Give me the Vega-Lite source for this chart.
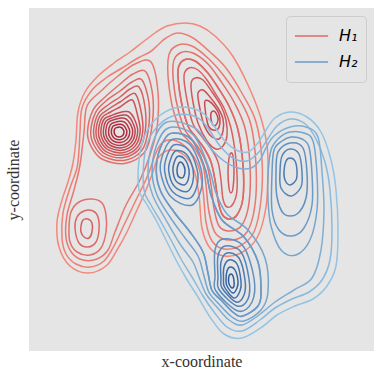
{
"$schema": "https://vega.github.io/schema/vega-lite/v6.json",
"width": 345, "height": 343,
"autosize": {"type": "none"},
"padding": {"left": 29, "top": 8, "right": 8, "bottom": 28},
"background": "white",
"config": {
  "view": {"fill": "#e5e5e5", "stroke": null},
  "axis": {"labels": false, "ticks": false, "domain": false, "grid": false, "titleFont": "Liberation Serif", "titleFontSize": 16, "titleFontWeight": "normal", "titleColor": "#333333"},
  "legend": {"orient": "none", "legendX": 257, "legendY": 8, "fillColor": "#e5e5e5", "strokeColor": "#cccccc", "cornerRadius": 4, "padding": 8, "labelFont": "DejaVu Sans", "labelFontSize": 16, "labelFontStyle": "italic", "labelColor": "#000000", "symbolType": "stroke", "symbolStrokeWidth": 1.5, "symbolSize": 1100, "labelOffset": 10, "clipHeight": 24}
},
"datasets": {"c": [
{"s":"H₁","r":"E1","l":0,"x":47,"y":211},{"s":"H₁","r":"E1","l":0,"x":49,"y":239},{"s":"H₁","r":"E1","l":0,"x":56,"y":259},{"s":"H₁","r":"E1","l":0,"x":69,"y":275},{"s":"H₁","r":"E1","l":0,"x":85,"y":288},{"s":"H₁","r":"E1","l":0,"x":101,"y":299},{"s":"H₁","r":"E1","l":0,"x":114,"y":309},{"s":"H₁","r":"E1","l":0,"x":126,"y":318},{"s":"H₁","r":"E1","l":0,"x":138,"y":325},{"s":"H₁","r":"E1","l":0,"x":156,"y":328},{"s":"H₁","r":"E1","l":0,"x":171,"y":325},{"s":"H₁","r":"E1","l":0,"x":186,"y":315},{"s":"H₁","r":"E1","l":0,"x":203,"y":296},{"s":"H₁","r":"E1","l":0,"x":219,"y":266},{"s":"H₁","r":"E1","l":0,"x":232,"y":233},{"s":"H₁","r":"E1","l":0,"x":238,"y":206},{"s":"H₁","r":"E1","l":0,"x":239,"y":181},{"s":"H₁","r":"E1","l":0,"x":237,"y":144},{"s":"H₁","r":"E1","l":0,"x":228,"y":113},{"s":"H₁","r":"E1","l":0,"x":212,"y":98},{"s":"H₁","r":"E1","l":0,"x":195,"y":95},{"s":"H₁","r":"E1","l":0,"x":181,"y":103},{"s":"H₁","r":"E1","l":0,"x":173,"y":123},{"s":"H₁","r":"E1","l":0,"x":170,"y":156},{"s":"H₁","r":"E1","l":0,"x":165,"y":181},{"s":"H₁","r":"E1","l":0,"x":155,"y":196},{"s":"H₁","r":"E1","l":0,"x":141,"y":201},{"s":"H₁","r":"E1","l":0,"x":129,"y":193},{"s":"H₁","r":"E1","l":0,"x":124,"y":179},{"s":"H₁","r":"E1","l":0,"x":117,"y":161},{"s":"H₁","r":"E1","l":0,"x":108,"y":141},{"s":"H₁","r":"E1","l":0,"x":98,"y":119},{"s":"H₁","r":"E1","l":0,"x":88,"y":101},{"s":"H₁","r":"E1","l":0,"x":77,"y":85},{"s":"H₁","r":"E1","l":0,"x":59,"y":78},{"s":"H₁","r":"E1","l":0,"x":41,"y":85},{"s":"H₁","r":"E1","l":0,"x":30,"y":104},{"s":"H₁","r":"E1","l":0,"x":28,"y":129},{"s":"H₁","r":"E1","l":0,"x":33,"y":151},{"s":"H₁","r":"E1","l":0,"x":39,"y":169},{"s":"H₁","r":"E1","l":0,"x":44,"y":188},
{"s":"H₁","r":"E2","l":1,"x":233,"y":191},{"s":"H₁","r":"E2","l":1,"x":232,"y":151},{"s":"H₁","r":"E2","l":1,"x":225,"y":119},{"s":"H₁","r":"E2","l":1,"x":211,"y":105},{"s":"H₁","r":"E2","l":1,"x":195,"y":102},{"s":"H₁","r":"E2","l":1,"x":183,"y":110},{"s":"H₁","r":"E2","l":1,"x":177,"y":129},{"s":"H₁","r":"E2","l":1,"x":174,"y":161},{"s":"H₁","r":"E2","l":1,"x":169,"y":186},{"s":"H₁","r":"E2","l":1,"x":158,"y":203},{"s":"H₁","r":"E2","l":1,"x":144,"y":211},{"s":"H₁","r":"E2","l":1,"x":133,"y":208},{"s":"H₁","r":"E2","l":1,"x":126,"y":196},{"s":"H₁","r":"E2","l":1,"x":119,"y":176},{"s":"H₁","r":"E2","l":1,"x":107,"y":151},{"s":"H₁","r":"E2","l":1,"x":95,"y":126},{"s":"H₁","r":"E2","l":1,"x":85,"y":105},{"s":"H₁","r":"E2","l":1,"x":75,"y":90},{"s":"H₁","r":"E2","l":1,"x":61,"y":84},{"s":"H₁","r":"E2","l":1,"x":47,"y":87},{"s":"H₁","r":"E2","l":1,"x":37,"y":97},{"s":"H₁","r":"E2","l":1,"x":33,"y":113},{"s":"H₁","r":"E2","l":1,"x":34,"y":138},{"s":"H₁","r":"E2","l":1,"x":41,"y":163},{"s":"H₁","r":"E2","l":1,"x":48,"y":183},{"s":"H₁","r":"E2","l":1,"x":50,"y":201},{"s":"H₁","r":"E2","l":1,"x":51,"y":219},{"s":"H₁","r":"E2","l":1,"x":53,"y":243},{"s":"H₁","r":"E2","l":1,"x":63,"y":261},{"s":"H₁","r":"E2","l":1,"x":77,"y":273},{"s":"H₁","r":"E2","l":1,"x":93,"y":283},{"s":"H₁","r":"E2","l":1,"x":109,"y":293},{"s":"H₁","r":"E2","l":1,"x":121,"y":299},{"s":"H₁","r":"E2","l":1,"x":129,"y":306},{"s":"H₁","r":"E2","l":1,"x":137,"y":313},{"s":"H₁","r":"E2","l":1,"x":149,"y":318},{"s":"H₁","r":"E2","l":1,"x":164,"y":313},{"s":"H₁","r":"E2","l":1,"x":181,"y":299},{"s":"H₁","r":"E2","l":1,"x":197,"y":283},{"s":"H₁","r":"E2","l":1,"x":214,"y":256},{"s":"H₁","r":"E2","l":1,"x":227,"y":229},
{"s":"H₁","r":"J","l":2,"x":55,"y":219},{"s":"H₁","r":"J","l":2,"x":58,"y":245},{"s":"H₁","r":"J","l":2,"x":72,"y":260},{"s":"H₁","r":"J","l":2,"x":89,"y":275},{"s":"H₁","r":"J","l":2,"x":106,"y":287},{"s":"H₁","r":"J","l":2,"x":122,"y":289},{"s":"H₁","r":"J","l":2,"x":129,"y":259},{"s":"H₁","r":"J","l":2,"x":128,"y":223},{"s":"H₁","r":"J","l":2,"x":121,"y":196},{"s":"H₁","r":"J","l":2,"x":111,"y":171},{"s":"H₁","r":"J","l":2,"x":97,"y":146},{"s":"H₁","r":"J","l":2,"x":86,"y":119},{"s":"H₁","r":"J","l":2,"x":79,"y":101},{"s":"H₁","r":"J","l":2,"x":68,"y":92},{"s":"H₁","r":"J","l":2,"x":54,"y":91},{"s":"H₁","r":"J","l":2,"x":43,"y":98},{"s":"H₁","r":"J","l":2,"x":37,"y":113},{"s":"H₁","r":"J","l":2,"x":38,"y":136},{"s":"H₁","r":"J","l":2,"x":45,"y":161},{"s":"H₁","r":"J","l":2,"x":51,"y":186},
{"s":"H₁","r":"L11","l":3,"x":58.5,"y":219},{"s":"H₁","r":"L11","l":3,"x":63.9,"y":240.6},{"s":"H₁","r":"L11","l":3,"x":75,"y":253},{"s":"H₁","r":"L11","l":3,"x":90,"y":266},{"s":"H₁","r":"L11","l":3,"x":104,"y":277},{"s":"H₁","r":"L11","l":3,"x":117,"y":279},{"s":"H₁","r":"L11","l":3,"x":124,"y":253},{"s":"H₁","r":"L11","l":3,"x":122.4,"y":220.8},{"s":"H₁","r":"L11","l":3,"x":115.2,"y":198.3},{"s":"H₁","r":"L11","l":3,"x":95.4,"y":187.5},{"s":"H₁","r":"L11","l":3,"x":72.9,"y":192},{"s":"H₁","r":"L11","l":3,"x":62.1,"y":204.6},
{"s":"H₁","r":"L10","l":4,"x":61.7,"y":219},{"s":"H₁","r":"L10","l":4,"x":66.5,"y":238.4},{"s":"H₁","r":"L10","l":4,"x":77,"y":250},{"s":"H₁","r":"L10","l":4,"x":91,"y":260},{"s":"H₁","r":"L10","l":4,"x":103,"y":269},{"s":"H₁","r":"L10","l":4,"x":113,"y":271},{"s":"H₁","r":"L10","l":4,"x":120,"y":248},{"s":"H₁","r":"L10","l":4,"x":119.2,"y":220.6},{"s":"H₁","r":"L10","l":4,"x":112.7,"y":200.4},{"s":"H₁","r":"L10","l":4,"x":94.9,"y":190.6},{"s":"H₁","r":"L10","l":4,"x":74.6,"y":194.7},{"s":"H₁","r":"L10","l":4,"x":64.9,"y":206},
{"s":"H₁","r":"L9","l":5,"x":64.5,"y":219},{"s":"H₁","r":"L9","l":5,"x":68.8,"y":236.5},{"s":"H₁","r":"L9","l":5,"x":79,"y":246},{"s":"H₁","r":"L9","l":5,"x":91,"y":254},{"s":"H₁","r":"L9","l":5,"x":101,"y":262},{"s":"H₁","r":"L9","l":5,"x":110,"y":264},{"s":"H₁","r":"L9","l":5,"x":116,"y":244},{"s":"H₁","r":"L9","l":5,"x":116.3,"y":220.5},{"s":"H₁","r":"L9","l":5,"x":110.4,"y":202.2},{"s":"H₁","r":"L9","l":5,"x":94.4,"y":193.4},{"s":"H₁","r":"L9","l":5,"x":76.1,"y":197.1},{"s":"H₁","r":"L9","l":5,"x":67.4,"y":207.3},
{"s":"H₁","r":"L8","l":6,"x":66.9,"y":219},{"s":"H₁","r":"L8","l":6,"x":70.9,"y":234.8},{"s":"H₁","r":"L8","l":6,"x":80.5,"y":242.5},{"s":"H₁","r":"L8","l":6,"x":91,"y":249},{"s":"H₁","r":"L8","l":6,"x":99.5,"y":255},{"s":"H₁","r":"L8","l":6,"x":106.5,"y":257},{"s":"H₁","r":"L8","l":6,"x":112,"y":240},{"s":"H₁","r":"L8","l":6,"x":113.8,"y":220.3},{"s":"H₁","r":"L8","l":6,"x":108.5,"y":203.8},{"s":"H₁","r":"L8","l":6,"x":94,"y":195.9},{"s":"H₁","r":"L8","l":6,"x":77.5,"y":199.2},{"s":"H₁","r":"L8","l":6,"x":69.5,"y":208.4},
{"s":"H₁","r":"L7","l":7,"x":69.4,"y":219},{"s":"H₁","r":"L7","l":7,"x":72.9,"y":233.2},{"s":"H₁","r":"L7","l":7,"x":81.5,"y":239},{"s":"H₁","r":"L7","l":7,"x":91,"y":244},{"s":"H₁","r":"L7","l":7,"x":98,"y":249},{"s":"H₁","r":"L7","l":7,"x":104,"y":250.5},{"s":"H₁","r":"L7","l":7,"x":108.5,"y":236},{"s":"H₁","r":"L7","l":7,"x":111.2,"y":220.2},{"s":"H₁","r":"L7","l":7,"x":106.5,"y":205.4},{"s":"H₁","r":"L7","l":7,"x":93.5,"y":198.3},{"s":"H₁","r":"L7","l":7,"x":78.8,"y":201.3},{"s":"H₁","r":"L7","l":7,"x":71.7,"y":209.6},
{"s":"H₁","r":"L6","l":8,"x":71.8,"y":219},{"s":"H₁","r":"L6","l":8,"x":74.9,"y":231.5},{"s":"H₁","r":"L6","l":8,"x":82.7,"y":235.6},{"s":"H₁","r":"L6","l":8,"x":90.9,"y":238.5},{"s":"H₁","r":"L6","l":8,"x":96.3,"y":239.4},{"s":"H₁","r":"L6","l":8,"x":100.4,"y":238.8},{"s":"H₁","r":"L6","l":8,"x":105.3,"y":232.2},{"s":"H₁","r":"L6","l":8,"x":108.7,"y":220},{"s":"H₁","r":"L6","l":8,"x":104.6,"y":207},{"s":"H₁","r":"L6","l":8,"x":93.1,"y":200.8},{"s":"H₁","r":"L6","l":8,"x":80.1,"y":203.4},{"s":"H₁","r":"L6","l":8,"x":73.9,"y":210.7},
{"s":"H₁","r":"L5","l":9,"x":74.3,"y":219},{"s":"H₁","r":"L5","l":9,"x":77,"y":229.8},{"s":"H₁","r":"L5","l":9,"x":83.7,"y":233.4},{"s":"H₁","r":"L5","l":9,"x":90.7,"y":235.6},{"s":"H₁","r":"L5","l":9,"x":95.3,"y":236},{"s":"H₁","r":"L5","l":9,"x":98.6,"y":235.3},{"s":"H₁","r":"L5","l":9,"x":102.9,"y":230.1},{"s":"H₁","r":"L5","l":9,"x":106.2,"y":219.9},{"s":"H₁","r":"L5","l":9,"x":102.6,"y":208.6},{"s":"H₁","r":"L5","l":9,"x":92.7,"y":203.2},{"s":"H₁","r":"L5","l":9,"x":81.5,"y":205.5},{"s":"H₁","r":"L5","l":9,"x":76,"y":211.8},
{"s":"H₁","r":"L4","l":10,"x":76.7,"y":219},{"s":"H₁","r":"L4","l":10,"x":79,"y":228.1},{"s":"H₁","r":"L4","l":10,"x":84.7,"y":231.2},{"s":"H₁","r":"L4","l":10,"x":90.6,"y":232.8},{"s":"H₁","r":"L4","l":10,"x":94.3,"y":232.9},{"s":"H₁","r":"L4","l":10,"x":96.9,"y":232.2},{"s":"H₁","r":"L4","l":10,"x":100.6,"y":228.2},{"s":"H₁","r":"L4","l":10,"x":103.7,"y":219.8},{"s":"H₁","r":"L4","l":10,"x":100.6,"y":210.3},{"s":"H₁","r":"L4","l":10,"x":92.3,"y":205.7},{"s":"H₁","r":"L4","l":10,"x":82.8,"y":207.6},{"s":"H₁","r":"L4","l":10,"x":78.2,"y":212.9},
{"s":"H₁","r":"L3","l":11,"x":79.5,"y":219},{"s":"H₁","r":"L3","l":11,"x":81.3,"y":226.2},{"s":"H₁","r":"L3","l":11,"x":85.8,"y":228.6},{"s":"H₁","r":"L3","l":11,"x":90.5,"y":229.7},{"s":"H₁","r":"L3","l":11,"x":93.3,"y":229.6},{"s":"H₁","r":"L3","l":11,"x":95.3,"y":229},{"s":"H₁","r":"L3","l":11,"x":98.2,"y":226.1},{"s":"H₁","r":"L3","l":11,"x":100.8,"y":219.6},{"s":"H₁","r":"L3","l":11,"x":98.4,"y":212.1},{"s":"H₁","r":"L3","l":11,"x":91.8,"y":208.5},{"s":"H₁","r":"L3","l":11,"x":84.3,"y":210},{"s":"H₁","r":"L3","l":11,"x":80.7,"y":214.2},
{"s":"H₁","r":"L2","l":12,"x":82.3,"y":219},{"s":"H₁","r":"L2","l":12,"x":83.6,"y":224.3},{"s":"H₁","r":"L2","l":12,"x":86.9,"y":226},{"s":"H₁","r":"L2","l":12,"x":90.4,"y":226.8},{"s":"H₁","r":"L2","l":12,"x":92.3,"y":226.6},{"s":"H₁","r":"L2","l":12,"x":93.7,"y":226.1},{"s":"H₁","r":"L2","l":12,"x":95.9,"y":224.1},{"s":"H₁","r":"L2","l":12,"x":97.9,"y":219.4},{"s":"H₁","r":"L2","l":12,"x":96.2,"y":213.9},{"s":"H₁","r":"L2","l":12,"x":91.3,"y":211.3},{"s":"H₁","r":"L2","l":12,"x":85.8,"y":212.4},{"s":"H₁","r":"L2","l":12,"x":83.2,"y":215.5},
{"s":"H₁","r":"L1","l":13,"x":85.1,"y":219},{"s":"H₁","r":"L1","l":13,"x":85.9,"y":222.4},{"s":"H₁","r":"L1","l":13,"x":88,"y":223.5},{"s":"H₁","r":"L1","l":13,"x":90.2,"y":223.9},{"s":"H₁","r":"L1","l":13,"x":91.5,"y":223.7},{"s":"H₁","r":"L1","l":13,"x":92.3,"y":223.4},{"s":"H₁","r":"L1","l":13,"x":93.7,"y":222.2},{"s":"H₁","r":"L1","l":13,"x":95,"y":219.3},{"s":"H₁","r":"L1","l":13,"x":93.9,"y":215.8},{"s":"H₁","r":"L1","l":13,"x":90.8,"y":214.1},{"s":"H₁","r":"L1","l":13,"x":87.3,"y":214.8},{"s":"H₁","r":"L1","l":13,"x":85.7,"y":216.8},
{"s":"H₁","r":"B2","l":3,"x":40,"y":123},{"s":"H₁","r":"B2","l":3,"x":42,"y":139},{"s":"H₁","r":"B2","l":3,"x":50,"y":149},{"s":"H₁","r":"B2","l":3,"x":63,"y":152},{"s":"H₁","r":"B2","l":3,"x":73,"y":148},{"s":"H₁","r":"B2","l":3,"x":77,"y":136},{"s":"H₁","r":"B2","l":3,"x":77,"y":119},{"s":"H₁","r":"B2","l":3,"x":72,"y":103},{"s":"H₁","r":"B2","l":3,"x":61,"y":96},{"s":"H₁","r":"B2","l":3,"x":48,"y":99},{"s":"H₁","r":"B2","l":3,"x":41,"y":109},
{"s":"H₁","r":"B1","l":4,"x":46,"y":123},{"s":"H₁","r":"B1","l":4,"x":48,"y":134},{"s":"H₁","r":"B1","l":4,"x":55,"y":140},{"s":"H₁","r":"B1","l":4,"x":64,"y":140},{"s":"H₁","r":"B1","l":4,"x":69,"y":134},{"s":"H₁","r":"B1","l":4,"x":70,"y":121},{"s":"H₁","r":"B1","l":4,"x":67,"y":109},{"s":"H₁","r":"B1","l":4,"x":59,"y":104},{"s":"H₁","r":"B1","l":4,"x":50,"y":108},
{"s":"H₁","r":"B0","l":5,"x":52,"y":125},{"s":"H₁","r":"B0","l":5,"x":54,"y":131},{"s":"H₁","r":"B0","l":5,"x":59,"y":132},{"s":"H₁","r":"B0","l":5,"x":63,"y":128},{"s":"H₁","r":"B0","l":5,"x":63,"y":119},{"s":"H₁","r":"B0","l":5,"x":60,"y":113},{"s":"H₁","r":"B0","l":5,"x":55,"y":114},{"s":"H₁","r":"B0","l":5,"x":52,"y":119},
{"s":"H₁","r":"M8","l":2,"x":151,"y":221},{"s":"H₁","r":"M8","l":2,"x":142,"y":251},{"s":"H₁","r":"M8","l":2,"x":139,"y":291},{"s":"H₁","r":"M8","l":2,"x":147,"y":305},{"s":"H₁","r":"M8","l":2,"x":163,"y":305},{"s":"H₁","r":"M8","l":2,"x":181,"y":291},{"s":"H₁","r":"M8","l":2,"x":195,"y":275},{"s":"H₁","r":"M8","l":2,"x":211,"y":251},{"s":"H₁","r":"M8","l":2,"x":222,"y":226},{"s":"H₁","r":"M8","l":2,"x":227,"y":186},{"s":"H₁","r":"M8","l":2,"x":226,"y":146},{"s":"H₁","r":"M8","l":2,"x":218,"y":119},{"s":"H₁","r":"M8","l":2,"x":203,"y":111},{"s":"H₁","r":"M8","l":2,"x":187,"y":117},{"s":"H₁","r":"M8","l":2,"x":180,"y":139},{"s":"H₁","r":"M8","l":2,"x":177,"y":166},{"s":"H₁","r":"M8","l":2,"x":174,"y":186},{"s":"H₁","r":"M8","l":2,"x":167,"y":201},{"s":"H₁","r":"M8","l":2,"x":157,"y":213},
{"s":"H₁","r":"M7","l":3,"x":155,"y":223},{"s":"H₁","r":"M7","l":3,"x":147,"y":251},{"s":"H₁","r":"M7","l":3,"x":144,"y":286},{"s":"H₁","r":"M7","l":3,"x":151,"y":298},{"s":"H₁","r":"M7","l":3,"x":164,"y":298},{"s":"H₁","r":"M7","l":3,"x":179,"y":287},{"s":"H₁","r":"M7","l":3,"x":191,"y":271},{"s":"H₁","r":"M7","l":3,"x":205,"y":249},{"s":"H₁","r":"M7","l":3,"x":216,"y":223},{"s":"H₁","r":"M7","l":3,"x":221,"y":186},{"s":"H₁","r":"M7","l":3,"x":220,"y":148},{"s":"H₁","r":"M7","l":3,"x":213,"y":126},{"s":"H₁","r":"M7","l":3,"x":201,"y":120},{"s":"H₁","r":"M7","l":3,"x":190,"y":125},{"s":"H₁","r":"M7","l":3,"x":185,"y":143},{"s":"H₁","r":"M7","l":3,"x":182,"y":166},{"s":"H₁","r":"M7","l":3,"x":178,"y":186},{"s":"H₁","r":"M7","l":3,"x":171,"y":201},{"s":"H₁","r":"M7","l":3,"x":162,"y":213},
{"s":"H₁","r":"M6","l":4,"x":159,"y":225},{"s":"H₁","r":"M6","l":4,"x":152,"y":251},{"s":"H₁","r":"M6","l":4,"x":149,"y":281},{"s":"H₁","r":"M6","l":4,"x":155,"y":291},{"s":"H₁","r":"M6","l":4,"x":166,"y":290},{"s":"H₁","r":"M6","l":4,"x":178,"y":279},{"s":"H₁","r":"M6","l":4,"x":188,"y":265},{"s":"H₁","r":"M6","l":4,"x":200,"y":245},{"s":"H₁","r":"M6","l":4,"x":209,"y":221},{"s":"H₁","r":"M6","l":4,"x":214,"y":186},{"s":"H₁","r":"M6","l":4,"x":214,"y":153},{"s":"H₁","r":"M6","l":4,"x":208,"y":136},{"s":"H₁","r":"M6","l":4,"x":200,"y":132},{"s":"H₁","r":"M6","l":4,"x":193,"y":137},{"s":"H₁","r":"M6","l":4,"x":189,"y":151},{"s":"H₁","r":"M6","l":4,"x":186,"y":171},{"s":"H₁","r":"M6","l":4,"x":182,"y":189},{"s":"H₁","r":"M6","l":4,"x":175,"y":203},{"s":"H₁","r":"M6","l":4,"x":166,"y":215},
{"s":"H₁","r":"M5","l":5,"x":164,"y":227},{"s":"H₁","r":"M5","l":5,"x":158,"y":251},{"s":"H₁","r":"M5","l":5,"x":155,"y":275},{"s":"H₁","r":"M5","l":5,"x":160,"y":283},{"s":"H₁","r":"M5","l":5,"x":169,"y":281},{"s":"H₁","r":"M5","l":5,"x":178,"y":271},{"s":"H₁","r":"M5","l":5,"x":186,"y":258},{"s":"H₁","r":"M5","l":5,"x":195,"y":243},{"s":"H₁","r":"M5","l":5,"x":202,"y":223},{"s":"H₁","r":"M5","l":5,"x":207,"y":191},{"s":"H₁","r":"M5","l":5,"x":208,"y":161},{"s":"H₁","r":"M5","l":5,"x":204,"y":147},{"s":"H₁","r":"M5","l":5,"x":198,"y":144},{"s":"H₁","r":"M5","l":5,"x":194,"y":152},{"s":"H₁","r":"M5","l":5,"x":192,"y":171},{"s":"H₁","r":"M5","l":5,"x":189,"y":189},{"s":"H₁","r":"M5","l":5,"x":183,"y":201},{"s":"H₁","r":"M5","l":5,"x":174,"y":213},
{"s":"H₁","r":"M4","l":6,"x":169,"y":228},{"s":"H₁","r":"M4","l":6,"x":164,"y":249},{"s":"H₁","r":"M4","l":6,"x":162,"y":267},{"s":"H₁","r":"M4","l":6,"x":166,"y":273},{"s":"H₁","r":"M4","l":6,"x":174,"y":271},{"s":"H₁","r":"M4","l":6,"x":183,"y":259},{"s":"H₁","r":"M4","l":6,"x":192,"y":245},{"s":"H₁","r":"M4","l":6,"x":197,"y":231},{"s":"H₁","r":"M4","l":6,"x":198,"y":215},{"s":"H₁","r":"M4","l":6,"x":194,"y":205},{"s":"H₁","r":"M4","l":6,"x":187,"y":202},{"s":"H₁","r":"M4","l":6,"x":178,"y":210},
{"s":"H₁","r":"R","l":6,"x":199,"y":179},{"s":"H₁","r":"R","l":6,"x":200,"y":193},{"s":"H₁","r":"R","l":6,"x":202,"y":198},{"s":"H₁","r":"R","l":6,"x":204,"y":195},{"s":"H₁","r":"R","l":6,"x":205,"y":179},{"s":"H₁","r":"R","l":6,"x":204,"y":163},{"s":"H₁","r":"R","l":6,"x":202,"y":158},{"s":"H₁","r":"R","l":6,"x":200,"y":163},
{"s":"H₁","r":"M3","l":7,"x":174,"y":229},{"s":"H₁","r":"M3","l":7,"x":170,"y":247},{"s":"H₁","r":"M3","l":7,"x":169,"y":258},{"s":"H₁","r":"M3","l":7,"x":174,"y":261},{"s":"H₁","r":"M3","l":7,"x":181,"y":254},{"s":"H₁","r":"M3","l":7,"x":189,"y":243},{"s":"H₁","r":"M3","l":7,"x":194,"y":232},{"s":"H₁","r":"M3","l":7,"x":194,"y":220},{"s":"H₁","r":"M3","l":7,"x":190,"y":212},{"s":"H₁","r":"M3","l":7,"x":183,"y":214},{"s":"H₁","r":"M3","l":7,"x":178,"y":220},
{"s":"H₁","r":"M2","l":8,"x":178,"y":230},{"s":"H₁","r":"M2","l":8,"x":176,"y":243},{"s":"H₁","r":"M2","l":8,"x":176,"y":250},{"s":"H₁","r":"M2","l":8,"x":180,"y":250},{"s":"H₁","r":"M2","l":8,"x":186,"y":244},{"s":"H₁","r":"M2","l":8,"x":190,"y":237},{"s":"H₁","r":"M2","l":8,"x":191,"y":229},{"s":"H₁","r":"M2","l":8,"x":189,"y":222},{"s":"H₁","r":"M2","l":8,"x":184,"y":221},{"s":"H₁","r":"M2","l":8,"x":180,"y":224},
{"s":"H₁","r":"M1","l":9,"x":182,"y":232},{"s":"H₁","r":"M1","l":9,"x":182,"y":238},{"s":"H₁","r":"M1","l":9,"x":185,"y":240},{"s":"H₁","r":"M1","l":9,"x":188,"y":236},{"s":"H₁","r":"M1","l":9,"x":189,"y":231},{"s":"H₁","r":"M1","l":9,"x":187,"y":226},{"s":"H₁","r":"M1","l":9,"x":184,"y":226},
{"s":"H₂","r":"F1","l":0,"x":110,"y":161},{"s":"H₂","r":"F1","l":0,"x":110,"y":191},{"s":"H₂","r":"F1","l":0,"x":116,"y":216},{"s":"H₂","r":"F1","l":0,"x":129,"y":234},{"s":"H₂","r":"F1","l":0,"x":146,"y":243},{"s":"H₂","r":"F1","l":0,"x":162,"y":243},{"s":"H₂","r":"F1","l":0,"x":175,"y":237},{"s":"H₂","r":"F1","l":0,"x":185,"y":225},{"s":"H₂","r":"F1","l":0,"x":195,"y":211},{"s":"H₂","r":"F1","l":0,"x":207,"y":201},{"s":"H₂","r":"F1","l":0,"x":219,"y":199},{"s":"H₂","r":"F1","l":0,"x":229,"y":208},{"s":"H₂","r":"F1","l":0,"x":237,"y":221},{"s":"H₂","r":"F1","l":0,"x":246,"y":233},{"s":"H₂","r":"F1","l":0,"x":261,"y":239},{"s":"H₂","r":"F1","l":0,"x":278,"y":234},{"s":"H₂","r":"F1","l":0,"x":292,"y":219},{"s":"H₂","r":"F1","l":0,"x":302,"y":191},{"s":"H₂","r":"F1","l":0,"x":307,"y":161},{"s":"H₂","r":"F1","l":0,"x":309,"y":121},{"s":"H₂","r":"F1","l":0,"x":307,"y":85},{"s":"H₂","r":"F1","l":0,"x":298,"y":65},{"s":"H₂","r":"F1","l":0,"x":284,"y":52},{"s":"H₂","r":"F1","l":0,"x":266,"y":45},{"s":"H₂","r":"F1","l":0,"x":248,"y":36},{"s":"H₂","r":"F1","l":0,"x":233,"y":24},{"s":"H₂","r":"F1","l":0,"x":213,"y":13},{"s":"H₂","r":"F1","l":0,"x":195,"y":17},{"s":"H₂","r":"F1","l":0,"x":181,"y":34},{"s":"H₂","r":"F1","l":0,"x":169,"y":54},{"s":"H₂","r":"F1","l":0,"x":157,"y":73},{"s":"H₂","r":"F1","l":0,"x":147,"y":91},{"s":"H₂","r":"F1","l":0,"x":137,"y":111},{"s":"H₂","r":"F1","l":0,"x":127,"y":131},{"s":"H₂","r":"F1","l":0,"x":117,"y":148},
{"s":"H₂","r":"F2","l":1,"x":115,"y":161},{"s":"H₂","r":"F2","l":1,"x":115,"y":191},{"s":"H₂","r":"F2","l":1,"x":120,"y":212},{"s":"H₂","r":"F2","l":1,"x":132,"y":228},{"s":"H₂","r":"F2","l":1,"x":147,"y":236},{"s":"H₂","r":"F2","l":1,"x":162,"y":236},{"s":"H₂","r":"F2","l":1,"x":172,"y":231},{"s":"H₂","r":"F2","l":1,"x":181,"y":220},{"s":"H₂","r":"F2","l":1,"x":191,"y":205},{"s":"H₂","r":"F2","l":1,"x":204,"y":193},{"s":"H₂","r":"F2","l":1,"x":218,"y":190},{"s":"H₂","r":"F2","l":1,"x":230,"y":199},{"s":"H₂","r":"F2","l":1,"x":238,"y":211},{"s":"H₂","r":"F2","l":1,"x":248,"y":225},{"s":"H₂","r":"F2","l":1,"x":261,"y":232},{"s":"H₂","r":"F2","l":1,"x":275,"y":228},{"s":"H₂","r":"F2","l":1,"x":286,"y":214},{"s":"H₂","r":"F2","l":1,"x":296,"y":189},{"s":"H₂","r":"F2","l":1,"x":301,"y":161},{"s":"H₂","r":"F2","l":1,"x":303,"y":121},{"s":"H₂","r":"F2","l":1,"x":301,"y":91},{"s":"H₂","r":"F2","l":1,"x":293,"y":71},{"s":"H₂","r":"F2","l":1,"x":280,"y":59},{"s":"H₂","r":"F2","l":1,"x":263,"y":52},{"s":"H₂","r":"F2","l":1,"x":246,"y":43},{"s":"H₂","r":"F2","l":1,"x":231,"y":31},{"s":"H₂","r":"F2","l":1,"x":213,"y":20},{"s":"H₂","r":"F2","l":1,"x":198,"y":24},{"s":"H₂","r":"F2","l":1,"x":185,"y":39},{"s":"H₂","r":"F2","l":1,"x":174,"y":55},{"s":"H₂","r":"F2","l":1,"x":163,"y":74},{"s":"H₂","r":"F2","l":1,"x":152,"y":92},{"s":"H₂","r":"F2","l":1,"x":142,"y":111},{"s":"H₂","r":"F2","l":1,"x":132,"y":129},{"s":"H₂","r":"F2","l":1,"x":122,"y":146},
{"s":"H₂","r":"G1","l":2,"x":119,"y":179},{"s":"H₂","r":"G1","l":2,"x":124,"y":209},{"s":"H₂","r":"G1","l":2,"x":138,"y":229},{"s":"H₂","r":"G1","l":2,"x":166,"y":223},{"s":"H₂","r":"G1","l":2,"x":183,"y":201},{"s":"H₂","r":"G1","l":2,"x":195,"y":190},{"s":"H₂","r":"G1","l":2,"x":209,"y":183},{"s":"H₂","r":"G1","l":2,"x":222,"y":183},{"s":"H₂","r":"G1","l":2,"x":231,"y":191},{"s":"H₂","r":"G1","l":2,"x":237,"y":203},{"s":"H₂","r":"G1","l":2,"x":245,"y":215},{"s":"H₂","r":"G1","l":2,"x":261,"y":224},{"s":"H₂","r":"G1","l":2,"x":277,"y":224},{"s":"H₂","r":"G1","l":2,"x":289,"y":214},{"s":"H₂","r":"G1","l":2,"x":293,"y":179},{"s":"H₂","r":"G1","l":2,"x":295,"y":141},{"s":"H₂","r":"G1","l":2,"x":292,"y":101},{"s":"H₂","r":"G1","l":2,"x":283,"y":73},{"s":"H₂","r":"G1","l":2,"x":265,"y":61},{"s":"H₂","r":"G1","l":2,"x":246,"y":49},{"s":"H₂","r":"G1","l":2,"x":230,"y":36},{"s":"H₂","r":"G1","l":2,"x":213,"y":26},{"s":"H₂","r":"G1","l":2,"x":200,"y":31},{"s":"H₂","r":"G1","l":2,"x":187,"y":45},{"s":"H₂","r":"G1","l":2,"x":177,"y":57},{"s":"H₂","r":"G1","l":2,"x":170,"y":74},{"s":"H₂","r":"G1","l":2,"x":164,"y":89},{"s":"H₂","r":"G1","l":2,"x":151,"y":107},{"s":"H₂","r":"G1","l":2,"x":137,"y":131},{"s":"H₂","r":"G1","l":2,"x":124,"y":155},
{"s":"H₂","r":"U2","l":3,"x":123.1,"y":179.3},{"s":"H₂","r":"U2","l":3,"x":127.6,"y":205.7},{"s":"H₂","r":"U2","l":3,"x":139.9,"y":223.3},{"s":"H₂","r":"U2","l":3,"x":164.3,"y":216.1},{"s":"H₂","r":"U2","l":3,"x":180,"y":182.7},{"s":"H₂","r":"U2","l":3,"x":187,"y":158},{"s":"H₂","r":"U2","l":3,"x":198,"y":137},{"s":"H₂","r":"U2","l":3,"x":219,"y":121},{"s":"H₂","r":"U2","l":3,"x":236,"y":93},{"s":"H₂","r":"U2","l":3,"x":239,"y":59},{"s":"H₂","r":"U2","l":3,"x":232,"y":41},{"s":"H₂","r":"U2","l":3,"x":215,"y":30},{"s":"H₂","r":"U2","l":3,"x":203,"y":34},{"s":"H₂","r":"U2","l":3,"x":189,"y":48},{"s":"H₂","r":"U2","l":3,"x":180,"y":58.5},{"s":"H₂","r":"U2","l":3,"x":175,"y":75},{"s":"H₂","r":"U2","l":3,"x":169,"y":95},{"s":"H₂","r":"U2","l":3,"x":156,"y":113},{"s":"H₂","r":"U2","l":3,"x":141,"y":134},{"s":"H₂","r":"U2","l":3,"x":128,"y":156},
{"s":"H₂","r":"U1","l":4,"x":127.3,"y":179.6},{"s":"H₂","r":"U1","l":4,"x":131.1,"y":202.4},{"s":"H₂","r":"U1","l":4,"x":141.7,"y":217.6},{"s":"H₂","r":"U1","l":4,"x":162.6,"y":211.3},{"s":"H₂","r":"U1","l":4,"x":176,"y":182.4},{"s":"H₂","r":"U1","l":4,"x":182,"y":156},{"s":"H₂","r":"U1","l":4,"x":193,"y":131},{"s":"H₂","r":"U1","l":4,"x":215,"y":114},{"s":"H₂","r":"U1","l":4,"x":229,"y":89},{"s":"H₂","r":"U1","l":4,"x":232,"y":61},{"s":"H₂","r":"U1","l":4,"x":229,"y":45},{"s":"H₂","r":"U1","l":4,"x":214,"y":35},{"s":"H₂","r":"U1","l":4,"x":205,"y":38},{"s":"H₂","r":"U1","l":4,"x":192,"y":51},{"s":"H₂","r":"U1","l":4,"x":183,"y":60.5},{"s":"H₂","r":"U1","l":4,"x":179,"y":78},{"s":"H₂","r":"U1","l":4,"x":174,"y":99},{"s":"H₂","r":"U1","l":4,"x":161,"y":119},{"s":"H₂","r":"U1","l":4,"x":145,"y":139},{"s":"H₂","r":"U1","l":4,"x":132,"y":159},
{"s":"H₂","r":"K5","l":5,"x":131.4,"y":179.9},{"s":"H₂","r":"K5","l":5,"x":134.7,"y":199.1},{"s":"H₂","r":"K5","l":5,"x":143.6,"y":211.8},{"s":"H₂","r":"K5","l":5,"x":160.9,"y":206.4},{"s":"H₂","r":"K5","l":5,"x":172,"y":182.1},{"s":"H₂","r":"K5","l":5,"x":172.1,"y":161.3},{"s":"H₂","r":"K5","l":5,"x":162.1,"y":145.6},{"s":"H₂","r":"K5","l":5,"x":141.6,"y":154.4},
{"s":"H₂","r":"K4","l":6,"x":135.6,"y":180.1},{"s":"H₂","r":"K4","l":6,"x":138.3,"y":195.9},{"s":"H₂","r":"K4","l":6,"x":145.4,"y":206.2},{"s":"H₂","r":"K4","l":6,"x":159.1,"y":201.6},{"s":"H₂","r":"K4","l":6,"x":168,"y":181.9},{"s":"H₂","r":"K4","l":6,"x":167.9,"y":164.7},{"s":"H₂","r":"K4","l":6,"x":159.9,"y":152.4},{"s":"H₂","r":"K4","l":6,"x":143.4,"y":159.6},
{"s":"H₂","r":"K3","l":7,"x":139.7,"y":180.4},{"s":"H₂","r":"K3","l":7,"x":141.9,"y":192.6},{"s":"H₂","r":"K3","l":7,"x":147.3,"y":200.4},{"s":"H₂","r":"K3","l":7,"x":157.4,"y":196.7},{"s":"H₂","r":"K3","l":7,"x":164,"y":181.6},{"s":"H₂","r":"K3","l":7,"x":163.6,"y":168.1},{"s":"H₂","r":"K3","l":7,"x":157.6,"y":159.3},{"s":"H₂","r":"K3","l":7,"x":145.3,"y":164.7},
{"s":"H₂","r":"K2","l":8,"x":143.9,"y":180.7},{"s":"H₂","r":"K2","l":8,"x":145.4,"y":189.3},{"s":"H₂","r":"K2","l":8,"x":149.1,"y":194.7},{"s":"H₂","r":"K2","l":8,"x":155.7,"y":191.9},{"s":"H₂","r":"K2","l":8,"x":160,"y":181.3},{"s":"H₂","r":"K2","l":8,"x":159.3,"y":171.6},{"s":"H₂","r":"K2","l":8,"x":155.3,"y":166.1},{"s":"H₂","r":"K2","l":8,"x":147.1,"y":169.9},
{"s":"H₂","r":"K1","l":9,"x":148,"y":181},{"s":"H₂","r":"K1","l":9,"x":149,"y":186},{"s":"H₂","r":"K1","l":9,"x":151,"y":189},{"s":"H₂","r":"K1","l":9,"x":154,"y":187},{"s":"H₂","r":"K1","l":9,"x":156,"y":181},{"s":"H₂","r":"K1","l":9,"x":155,"y":175},{"s":"H₂","r":"K1","l":9,"x":153,"y":173},{"s":"H₂","r":"K1","l":9,"x":149,"y":175},
{"s":"H₂","r":"Q6","l":5,"x":186,"y":75},{"s":"H₂","r":"Q6","l":5,"x":186,"y":101},{"s":"H₂","r":"Q6","l":5,"x":194,"y":112},{"s":"H₂","r":"Q6","l":5,"x":214,"y":105},{"s":"H₂","r":"Q6","l":5,"x":225,"y":73},{"s":"H₂","r":"Q6","l":5,"x":223,"y":49},{"s":"H₂","r":"Q6","l":5,"x":209,"y":40},{"s":"H₂","r":"Q6","l":5,"x":187,"y":60},
{"s":"H₂","r":"Q5","l":6,"x":189,"y":74},{"s":"H₂","r":"Q5","l":6,"x":189,"y":95},{"s":"H₂","r":"Q5","l":6,"x":196,"y":105},{"s":"H₂","r":"Q5","l":6,"x":212,"y":99},{"s":"H₂","r":"Q5","l":6,"x":220,"y":72},{"s":"H₂","r":"Q5","l":6,"x":219,"y":52},{"s":"H₂","r":"Q5","l":6,"x":208,"y":45},{"s":"H₂","r":"Q5","l":6,"x":190,"y":61.5},
{"s":"H₂","r":"Q4","l":7,"x":192,"y":73},{"s":"H₂","r":"Q4","l":7,"x":192,"y":89},{"s":"H₂","r":"Q4","l":7,"x":198,"y":98},{"s":"H₂","r":"Q4","l":7,"x":210,"y":93},{"s":"H₂","r":"Q4","l":7,"x":216,"y":71},{"s":"H₂","r":"Q4","l":7,"x":215,"y":56},{"s":"H₂","r":"Q4","l":7,"x":207,"y":49},{"s":"H₂","r":"Q4","l":7,"x":193,"y":63},
{"s":"H₂","r":"Q3","l":8,"x":194.5,"y":72},{"s":"H₂","r":"Q3","l":8,"x":195,"y":84},{"s":"H₂","r":"Q3","l":8,"x":200,"y":91},{"s":"H₂","r":"Q3","l":8,"x":208,"y":87},{"s":"H₂","r":"Q3","l":8,"x":212,"y":70},{"s":"H₂","r":"Q3","l":8,"x":211,"y":60},{"s":"H₂","r":"Q3","l":8,"x":205,"y":53},{"s":"H₂","r":"Q3","l":8,"x":195.5,"y":64},
{"s":"H₂","r":"Q2","l":9,"x":197,"y":71},{"s":"H₂","r":"Q2","l":9,"x":198,"y":80},{"s":"H₂","r":"Q2","l":9,"x":201,"y":84},{"s":"H₂","r":"Q2","l":9,"x":206,"y":81},{"s":"H₂","r":"Q2","l":9,"x":209,"y":70},{"s":"H₂","r":"Q2","l":9,"x":208,"y":63},{"s":"H₂","r":"Q2","l":9,"x":204,"y":58},{"s":"H₂","r":"Q2","l":9,"x":198,"y":65},
{"s":"H₂","r":"Q1","l":10,"x":199.5,"y":70},{"s":"H₂","r":"Q1","l":10,"x":200,"y":75},{"s":"H₂","r":"Q1","l":10,"x":202,"y":77},{"s":"H₂","r":"Q1","l":10,"x":204,"y":75},{"s":"H₂","r":"Q1","l":10,"x":205,"y":70},{"s":"H₂","r":"Q1","l":10,"x":205,"y":65},{"s":"H₂","r":"Q1","l":10,"x":203,"y":63},{"s":"H₂","r":"Q1","l":10,"x":200.5,"y":66},
{"s":"H₂","r":"P5","l":3,"x":239,"y":176},{"s":"H₂","r":"P5","l":3,"x":242,"y":201},{"s":"H₂","r":"P5","l":3,"x":250,"y":213},{"s":"H₂","r":"P5","l":3,"x":261,"y":219},{"s":"H₂","r":"P5","l":3,"x":275,"y":218},{"s":"H₂","r":"P5","l":3,"x":284,"y":210},{"s":"H₂","r":"P5","l":3,"x":288,"y":177},{"s":"H₂","r":"P5","l":3,"x":288,"y":141},{"s":"H₂","r":"P5","l":3,"x":281,"y":111},{"s":"H₂","r":"P5","l":3,"x":267,"y":96},{"s":"H₂","r":"P5","l":3,"x":252,"y":101},{"s":"H₂","r":"P5","l":3,"x":242,"y":125},{"s":"H₂","r":"P5","l":3,"x":239,"y":151},
{"s":"H₂","r":"P4","l":4,"x":243,"y":177},{"s":"H₂","r":"P4","l":4,"x":245,"y":201},{"s":"H₂","r":"P4","l":4,"x":253,"y":210},{"s":"H₂","r":"P4","l":4,"x":262,"y":214},{"s":"H₂","r":"P4","l":4,"x":273,"y":212},{"s":"H₂","r":"P4","l":4,"x":280,"y":204},{"s":"H₂","r":"P4","l":4,"x":283,"y":177},{"s":"H₂","r":"P4","l":4,"x":283,"y":146},{"s":"H₂","r":"P4","l":4,"x":275,"y":123},{"s":"H₂","r":"P4","l":4,"x":263,"y":115},{"s":"H₂","r":"P4","l":4,"x":250,"y":121},{"s":"H₂","r":"P4","l":4,"x":243,"y":141},
{"s":"H₂","r":"P3","l":5,"x":247,"y":178},{"s":"H₂","r":"P3","l":5,"x":249,"y":199},{"s":"H₂","r":"P3","l":5,"x":261,"y":208},{"s":"H₂","r":"P3","l":5,"x":274,"y":203},{"s":"H₂","r":"P3","l":5,"x":278,"y":178},{"s":"H₂","r":"P3","l":5,"x":277,"y":153},{"s":"H₂","r":"P3","l":5,"x":268,"y":137},{"s":"H₂","r":"P3","l":5,"x":255,"y":137},{"s":"H₂","r":"P3","l":5,"x":248,"y":154},
{"s":"H₂","r":"P2","l":6,"x":251,"y":179},{"s":"H₂","r":"P2","l":6,"x":253,"y":195},{"s":"H₂","r":"P2","l":6,"x":261,"y":202},{"s":"H₂","r":"P2","l":6,"x":270,"y":197},{"s":"H₂","r":"P2","l":6,"x":273,"y":179},{"s":"H₂","r":"P2","l":6,"x":272,"y":164},{"s":"H₂","r":"P2","l":6,"x":262,"y":155},{"s":"H₂","r":"P2","l":6,"x":252,"y":163},
{"s":"H₂","r":"P1","l":7,"x":255,"y":180},{"s":"H₂","r":"P1","l":7,"x":257,"y":190},{"s":"H₂","r":"P1","l":7,"x":261,"y":193},{"s":"H₂","r":"P1","l":7,"x":266,"y":190},{"s":"H₂","r":"P1","l":7,"x":268,"y":180},{"s":"H₂","r":"P1","l":7,"x":267,"y":171},{"s":"H₂","r":"P1","l":7,"x":261,"y":166},{"s":"H₂","r":"P1","l":7,"x":256,"y":171}
]},
"data": {"name": "c"},
"encoding": {
  "x": {"field": "x", "type": "quantitative", "scale": {"domain": [0, 345], "nice": false, "zero": false}, "axis": {"title": "x-coordinate", "titlePadding": 2}},
  "y": {"field": "y", "type": "quantitative", "scale": {"domain": [0, 343], "nice": false, "zero": false}, "axis": {"title": "y-coordinate", "titlePadding": 8}},
  "detail": {"field": "r"},
  "order": {"value": null}
},
"layer": [
  {
    "transform": [{"filter": "datum.r == 'M6' || datum.r == 'U1'"}],
    "mark": {"type": "line", "interpolate": "cardinal-closed", "strokeWidth": 1.5},
    "encoding": {"color": {"field": "s", "type": "nominal", "scale": {"domain": ["H₁", "H₂"], "range": ["#dd6966", "#6a9ac7"]}, "legend": {"title": null}}}
  },
  {
    "transform": [{"filter": "datum.s == 'H₁'"}],
    "mark": {"type": "line", "interpolate": "cardinal-closed", "strokeWidth": 1.5},
    "encoding": {"stroke": {"field": "l", "type": "quantitative", "scale": {"domain": [0, 13], "range": ["#f4877a", "#a9253a"], "interpolate": "rgb"}, "legend": null}}
  },
  {
    "transform": [{"filter": "datum.s == 'H₂'"}],
    "mark": {"type": "line", "interpolate": "cardinal-closed", "strokeWidth": 1.5},
    "encoding": {"stroke": {"field": "l", "type": "quantitative", "scale": {"domain": [0, 10], "range": ["#93c4e4", "#2c5c9c"], "interpolate": "rgb"}, "legend": null}}
  }
],
"resolve": {"scale": {"stroke": "independent"}}
}
